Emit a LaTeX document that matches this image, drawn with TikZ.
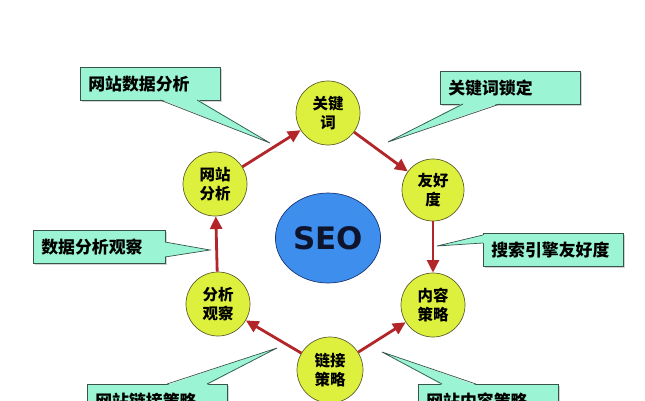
\documentclass[tikz,border=0pt]{standalone}
\usepackage{fontspec}
\newfontfamily\cjk{Noto Sans CJK SC}
\newfontfamily\seofont{DejaVu Sans}
\usetikzlibrary{arrows.meta,shadows,shapes.geometric}
\definecolor{ballfill}{RGB}{222,240,62}
\definecolor{ballline}{RGB}{95,95,45}
\definecolor{seofill}{RGB}{62,142,238}
\definecolor{seoline}{RGB}{25,55,115}
\definecolor{seotext}{RGB}{15,20,45}
\definecolor{notefill}{RGB}{155,245,212}
\definecolor{noteline}{RGB}{55,85,75}
\definecolor{arrowred}{RGB}{178,38,42}
\tikzset{
  ball/.style={circle,draw=ballline,line width=1pt,fill=ballfill,minimum size=3.2cm,inner sep=0pt,
    align=center,font=\cjk\bfseries\fontsize{22}{27}\selectfont},
  note/.style={draw=noteline,line width=1pt,fill=notefill,anchor=north west,minimum height=1.65cm,
    text width=6.2cm,inner xsep=0.4cm,align=left,font=\cjk\bfseries\fontsize{24}{28}\selectfont,
    drop shadow={shadow xshift=3pt,shadow yshift=-3pt,fill=black!35}},
  flow/.style={draw=arrowred,line width=4pt,-{Triangle[length=18pt,width=17pt]}},
}
\begin{document}
\begin{tikzpicture}[x=0.05cm,y=-0.05cm]
\useasboundingbox (0,0) rectangle (645,400);
\clip (0,0) rectangle (645,400);
% center
\node[ellipse,draw=seoline,line width=1pt,fill=seofill,minimum width=5.05cm,minimum height=4.5cm,
  font=\seofont\bfseries\fontsize{44}{44}\selectfont,text=seotext] (seo) at (328,238) {SEO};
% the ring
\node[ball] (gjc) at (328,113) {关键\\词};
\node[ball,minimum size=3.1cm] (yhd) at (433,190) {友好\\度};
\node[ball] (nrcl) at (433,305) {内容\\策略};
\node[ball,minimum size=3.3cm] (ljcl) at (330,370) {链接\\策略};
\node[ball] (fxgc) at (218,304) {分析\\观察};
\node[ball] (wzfx) at (215,184) {网站\\分析};
\draw[flow] (wzfx) -- (gjc);
\draw[flow] (gjc) -- (yhd);
\draw[flow] (yhd) -- (nrcl);
\draw[flow] (ljcl) -- (nrcl);
\draw[flow] (ljcl) -- (fxgc);
\draw[flow] (fxgc) -- (wzfx);
% callouts
\node[note] (sjfx) at (80,67) {网站数据分析};
\coordinate (tsjfx) at (270,143);
\fill[notefill] (160,99)--(tsjfx)--(197,99)--cycle;
\draw[noteline,line width=1pt] (160,100)--(tsjfx)--(197,100);
\node[note] (gjsd) at (440,71) {关键词锁定};
\coordinate (tgjsd) at (388,142);
\fill[notefill] (463,103)--(tgjsd)--(500,103)--cycle;
\draw[noteline,line width=1pt] (463,104)--(tgjsd)--(500,104);
\node[note,text width=5.8cm] (fxgcn) at (33,230) {数据分析观察};
\coordinate (tfxgc) at (210,250);
\fill[notefill] (164,242)--(tfxgc)--(164,257)--cycle;
\draw[noteline,line width=1pt] (165,242)--(tfxgc)--(165,257);
\node[note] (ssyq) at (483,233) {搜索引擎友好度};
\coordinate (tssyq) at (437,246);
\fill[notefill] (484,235)--(tssyq)--(484,243)--cycle;
\draw[noteline,line width=1pt] (483,235)--(tssyq)--(483,243);
\node[note] (ljcln) at (87,384) {网站链接策略};
\coordinate (tljcl) at (277,348);
\fill[notefill] (167,385)--(tljcl)--(207,385)--cycle;
\draw[noteline,line width=1pt] (167,384)--(tljcl)--(207,384);
\node[note] (nrcln) at (418,384) {网站内容策略};
\coordinate (tnrcl) at (382,352);
\fill[notefill] (442,385)--(tnrcl)--(476,385)--cycle;
\draw[noteline,line width=1pt] (442,384)--(tnrcl)--(476,384);
\end{tikzpicture}
\end{document}
